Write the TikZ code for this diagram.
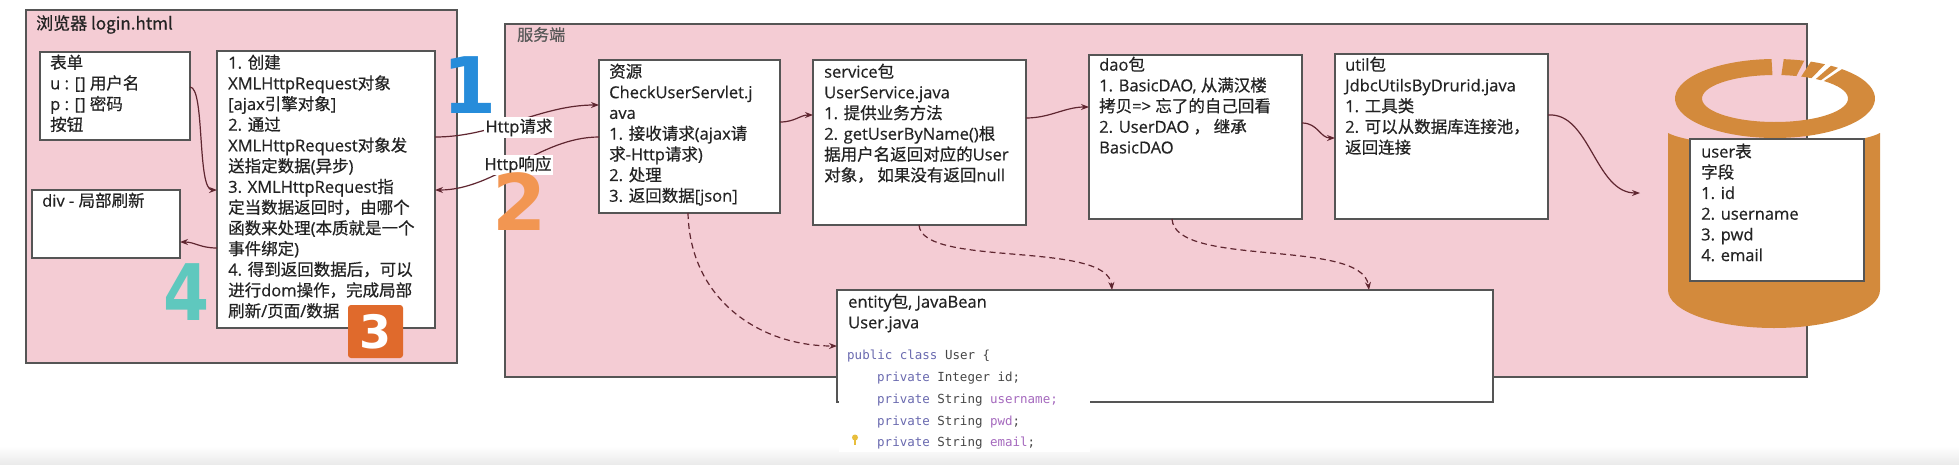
\documentclass[tikz,border=0pt]{standalone}
\usepackage{fontspec}
\setmainfont{Open Sans}[FakeBold=0.5]
\newfontfamily\latf{Open Sans}[FakeBold=0.5]
\newfontfamily\cjkf{Noto Sans CJK SC}[FakeBold=0.6]
\newfontfamily\codefont{DejaVu Sans Mono}
\newfontfamily\numfont{DejaVu Sans}
% automatic font switching between Latin runs and CJK runs
\newcount\cjkcnt
\cjkcnt=32 \loop \XeTeXcharclass\cjkcnt=0 \advance\cjkcnt by 1 \ifnum\cjkcnt<127 \repeat
\cjkcnt="3000 \loop \XeTeXcharclass\cjkcnt=7 \advance\cjkcnt by 1 \ifnum\cjkcnt<"3040 \repeat
\cjkcnt="4E00 \loop \XeTeXcharclass\cjkcnt=7 \advance\cjkcnt by 1 \ifnum\cjkcnt<"A000 \repeat
\cjkcnt="FF00 \loop \XeTeXcharclass\cjkcnt=7 \advance\cjkcnt by 1 \ifnum\cjkcnt<"FFF0 \repeat
\XeTeXinterchartoks 0 7 = {\cjkf}
\XeTeXinterchartoks 4095 7 = {\cjkf}
\XeTeXinterchartoks 7 0 = {\latf}
\XeTeXinterchartokenstate=1
\newcommand\nointer{\XeTeXinterchartokenstate=0\relax}
\newcommand\codestyle{\nointer\codefont\fontsize{12.5}{21.8}\selectfont}
\newcommand\numstyle{\nointer\numfont\bfseries\fontsize{78}{78}\selectfont}
\newcommand\sqnumstyle{\nointer\numfont\bfseries\fontsize{46}{46}\selectfont}
\usetikzlibrary{arrows.meta,calc}
\definecolor{pinkc}{RGB}{244,204,212}
\definecolor{boxc}{RGB}{85,85,85}
\definecolor{arrc}{RGB}{95,38,48}
\definecolor{textc}{RGB}{35,35,35}
\definecolor{dbc}{RGB}{211,138,60}
\definecolor{kwc}{RGB}{105,105,175}
\definecolor{fieldc}{RGB}{165,105,190}
\definecolor{typec}{RGB}{70,70,70}
\definecolor{bluen}{RGB}{38,140,218}
\definecolor{orangen}{RGB}{242,150,82}
\definecolor{tealn}{RGB}{95,200,190}
\definecolor{orsq}{RGB}{224,106,44}
\definecolor{bulbc}{RGB}{232,190,60}
\newcommand\ringseg[2]{%
  \fill[dbc] ($(1775,98.5)+(#1:100 and 39.5)$) arc[start angle=#1, end angle=#2, x radius=100, y radius=39.5]
    -- ($(1775,98.5)+(#2:73 and 23.5)$) arc[start angle=#2, end angle=#1, x radius=73, y radius=23.5] -- cycle;}
\begin{document}
\begin{tikzpicture}[x=1pt,y=-1pt,
  region/.style={draw=boxc, line width=1.2pt, fill=pinkc, anchor=north west, inner sep=0pt, outer sep=0pt},
  box/.style={draw=boxc, line width=1.2pt, fill=white, anchor=north west, inner sep=0pt, outer sep=0pt},
  txt/.style={anchor=north west, inner sep=0pt, align=left, text=textc, font=\fontsize{16.5}{20.7}\selectfont},
  arr/.style={draw=arrc, line width=1.2pt, -{Stealth[length=8pt,width=6pt]}},
  darr/.style={arr, dash pattern=on 6pt off 4pt},
  lab/.style={fill=white, inner sep=1.5pt, text=textc, font=\fontsize{16.5}{16.5}\selectfont},
  bignum/.style={inner sep=0pt, font=\numstyle},
]
\useasboundingbox (0,0) rectangle (1959,464);
\fill[white] (0,0) rectangle (1959,464);
\shade[top color=white, bottom color=black!8] (0,446) rectangle (1959,464);

% regions
\node[region, minimum width=431pt, minimum height=353pt] (browser) at (26,10) {};
\node[region, minimum width=1302pt, minimum height=353pt] (server) at (505,24) {};
\node[txt, font=\fontsize{17}{17}\selectfont] (browsert) at (36,15) {浏览器 login.html};
\node[txt, font=\fontsize{16}{16}\selectfont, text=black!65] (servert) at (517,27) {服务端};

% browser boxes
\node[box, minimum width=150pt, minimum height=88pt] (form) at (40,52) {};
\node[box, minimum width=218pt, minimum height=277pt] (js) at (217,51) {};
\node[box, minimum width=148pt, minimum height=68pt] (div) at (32,190) {};
\node[txt] (formt) at (50,54.5) {表单\\u : [] 用户名\\p : [] 密码\\按钮};
\node[txt] (jst) at (228,54.5) {1. 创建\\XMLHttpRequest对象\\{}[ajax引擎对象]\\2. 通过\\XMLHttpRequest对象发\\送指定数据(异步)\\3. XMLHttpRequest指\\定当数据返回时，由哪个\\函数来处理(本质就是一个\\事件绑定)\\4. 得到返回数据后，可以\\进行dom操作，完成局部\\刷新/页面/数据};
\node[txt] (divt) at (42,192.5) {div - 局部刷新};

% server boxes
\node[box, minimum width=181pt, minimum height=153pt] (servlet) at (599,60) {};
\node[box, minimum width=213pt, minimum height=165pt] (service) at (813,60) {};
\node[box, minimum width=213pt, minimum height=164pt] (dao) at (1089,55) {};
\node[box, minimum width=213pt, minimum height=165pt] (util) at (1335,54) {};
\node[txt] (servlett) at (609,63.5) {资源\\CheckUserServlet.j\\ava\\1. 接收请求(ajax请\\求-Http请求)\\2. 处理\\3. 返回数据[json]};
\node[txt] (servicet) at (824,63.5) {service包\\UserService.java\\1. 提供业务方法\\2. getUserByName()根\\据用户名返回对应的User\\对象， 如果没有返回null};
\node[txt] (daot) at (1099,56.5) {dao包\\1. BasicDAO, 从满汉楼\\拷贝=> 忘了的自己回看\\2. UserDAO ， 继承\\BasicDAO};
\node[txt] (utilt) at (1345,56.5) {util包\\JdbcUtilsByDrurid.java\\1. 工具类\\2. 可以从数据库连接池，\\返回连接};

% database cylinder
\ringseg{-48}{268}
\ringseg{-85}{-73}
\ringseg{-69}{-60}
\ringseg{-56}{-51}
\fill[dbc] (1668,133) .. controls (1700,150) and (1848,150) .. (1880,133) -- (1880,290)
  arc[start angle=0, end angle=180, x radius=106, y radius=38] -- cycle;
\node[box, minimum width=174pt, minimum height=142pt] (usertbl) at (1690,139) {};
\node[txt] (usertblt) at (1701,143.5) {user表\\字段\\1. id\\2. username\\3. pwd\\4. email};
\coordinate (dbin) at (1640,193);

% entity box with code
\node[box, minimum width=656pt, minimum height=112pt] (entity) at (837,290) {};
\fill[white] (838.8,395) rectangle (1090,452);
\node[txt] (entityt) at (848,293.5) {entity包, JavaBean\\User.java};
\node[anchor=north west, inner sep=0pt, align=left, text=typec, font=\codestyle] (code) at (847,350)
 {\textcolor{kwc}{public class} User \{\\
  \hspace*{30pt}\textcolor{kwc}{private} Integer id;\\
  \hspace*{30pt}\textcolor{kwc}{private} String \textcolor{fieldc}{username;}\\
  \hspace*{30pt}\textcolor{kwc}{private} String \textcolor{fieldc}{pwd};\\
  \hspace*{30pt}\textcolor{kwc}{private} String \textcolor{fieldc}{email};};
\fill[bulbc] (855,437.5) circle (3pt);
\fill[bulbc] (853.6,440) rectangle (856.4,444.5);

% connectors
\draw[arr] ($(form.north east)+(0,35)$) .. controls (205,87) and (197,190) .. ($(js.north west)+(0,139)$);
\draw[arr] ($(js.north west)+(0,197)$) .. controls (200,248) and (195,242) .. ($(div.north east)+(0,52)$);
\draw[arr] ($(js.north east)+(0,86)$) .. controls (495,137) and (540,105) .. ($(servlet.north west)+(0,45)$);
\draw[arr] ($(servlet.north west)+(0,77)$) .. controls (540,137) and (495,190) .. ($(js.north east)+(0,139)$);
\draw[arr] ($(servlet.north east)+(0,62)$) .. controls (795,122) and (800,115) .. ($(service.north west)+(0,55)$);
\draw[arr] ($(service.north east)+(0,58)$) .. controls (1050,118) and (1065,107) .. ($(dao.north west)+(0,52)$);
\draw[arr] ($(dao.north east)+(0,68)$) .. controls (1318,123) and (1320,138) .. ($(util.north west)+(0,84)$);
\draw[arr] ($(util.north east)+(0,61)$) .. controls (1590,112) and (1595,193) .. (dbin);
\draw[darr] ($(servlet.south west)+(89,0)$) .. controls (690,300) and (760,346) .. ($(entity.north west)+(0,56)$);
\draw[darr] ($(service.south west)+(106,0)$) .. controls (922,268) and (1108,240) .. ($(entity.north west)+(275,0)$);
\draw[darr] ($(dao.south west)+(83,0)$) .. controls (1175,268) and (1362,238) .. ($(entity.north west)+(532,0)$);

% labels
\node[lab] (lreq) at (519,127.5) {Http请求};
\node[lab] (lresp) at (518,165) {Http响应};

% step numerals
\node[bignum, text=bluen] (n1) at (470,85) {1};
\node[bignum, text=orangen] (n2) at (520,201.5) {2};
\node[bignum, text=tealn, xscale=0.85] (n4) at (187,292.5) {4};
\node[fill=orsq, rounded corners=3pt, minimum width=55pt, minimum height=53pt, inner sep=0pt, text=white, font=\sqnumstyle] (n3) at (375.5,331.5) {3};
\end{tikzpicture}
\end{document}
